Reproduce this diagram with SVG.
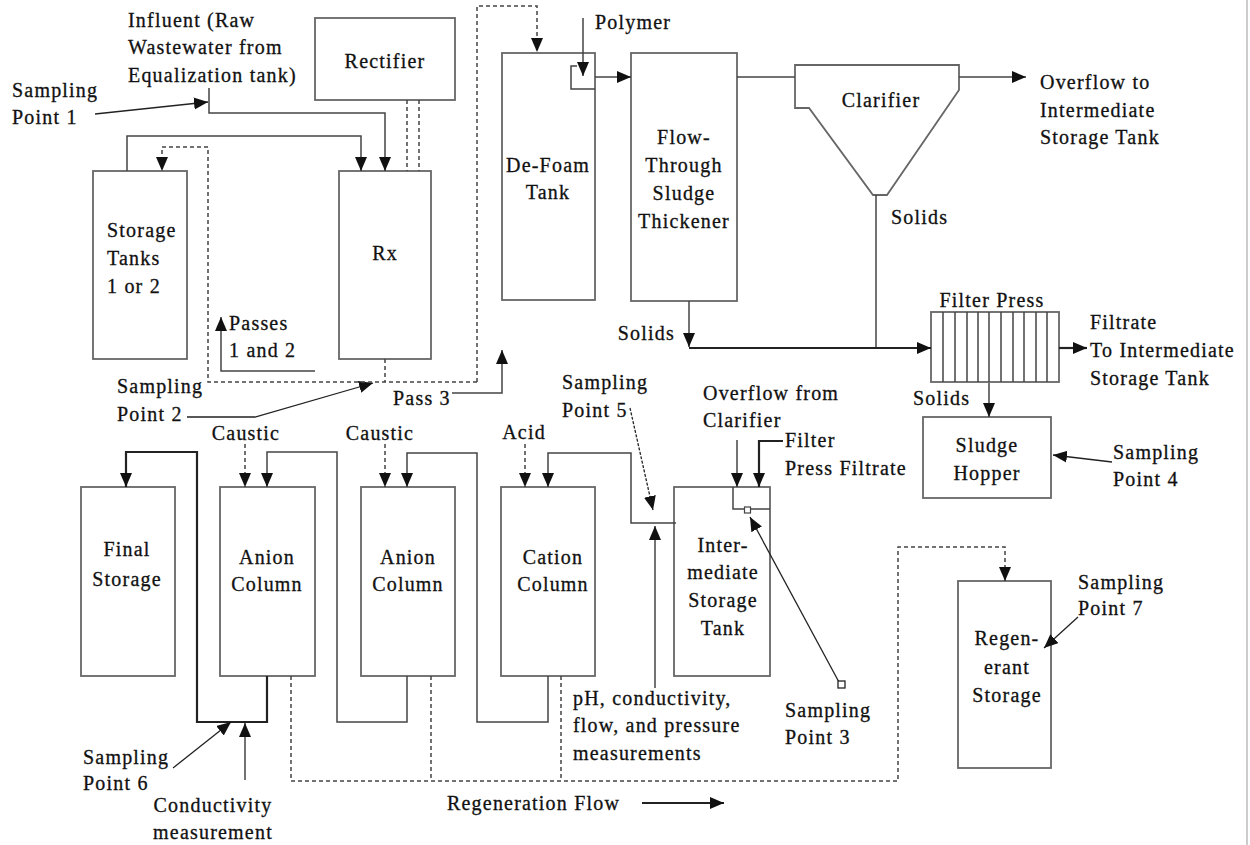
<svg xmlns="http://www.w3.org/2000/svg" width="1250" height="845" viewBox="0 0 1250 845">
<style>
text{font-family:"Liberation Serif","Times New Roman",serif;font-size:20px;letter-spacing:1.2px;fill:#111;stroke:#111;stroke-width:0.3}
.m{text-anchor:middle}
.e{text-anchor:end}
.box{fill:#fff;stroke:#666;stroke-width:1.8}
.ln{fill:none;stroke:#444;stroke-width:1.5}
.dk{fill:none;stroke:#222;stroke-width:1.3}
.th{fill:none;stroke:#222;stroke-width:2.2}
.ds{fill:none;stroke:#444;stroke-width:1.5;stroke-dasharray:4 3}
.ar{marker-end:url(#ah)}
</style>
<defs>
<marker id="ah" markerUnits="userSpaceOnUse" markerWidth="15" markerHeight="13" refX="14" refY="6" orient="auto"><path d="M0,0 L14,6 L0,12 z" fill="#111"/></marker>
</defs>
<rect width="1250" height="845" fill="#fff"/>
<line x1="1247" y1="0" x2="1247" y2="845" stroke="#bbb" stroke-width="1.5"/>

<g id="influent-label">
<text x="128" y="27">Influent (Raw</text>
<text x="128" y="54">Wastewater from</text>
<text x="128" y="82">Equalization tank)</text>
</g>
<g id="sp1"><text x="12" y="97">Sampling</text><text x="12" y="124">Point 1</text></g>
<g id="rectifier"><rect class="box" x="315" y="18" width="140" height="82"/><text class="m" x="385" y="68">Rectifier</text></g>
<g id="storage-tanks"><rect class="box" x="93" y="171" width="94" height="188"/>
<text x="107" y="237">Storage</text><text x="107" y="265">Tanks</text><text x="107" y="293">1 or 2</text></g>
<g id="rx"><rect class="box" x="339" y="171" width="92" height="188"/><text class="m" x="385" y="260">Rx</text></g>
<g id="passes"><text x="229" y="330">Passes</text><text x="229" y="357">1 and 2</text></g>
<g id="sp2"><text x="117" y="393">Sampling</text><text x="117" y="421">Point 2</text></g>
<g id="pass3"><text x="393" y="405">Pass 3</text></g>
<g id="defoam"><rect class="box" x="502" y="53" width="93" height="247"/>
<path class="ln" d="M577,66 H571 V89 H595"/>
<text class="m" x="548" y="172">De-Foam</text><text class="m" x="548" y="199">Tank</text></g>
<g id="polymer"><text x="595" y="29">Polymer</text></g>
<g id="thickener"><rect class="box" x="631" y="53" width="106" height="248"/>
<text class="m" x="684" y="144">Flow-</text><text class="m" x="684" y="172">Through</text><text class="m" x="684" y="200">Sludge</text><text class="m" x="684" y="228">Thickener</text></g>
<g id="clarifier"><path class="box" d="M795,65 H959 V90 L887,195 H873 L809,108 H795 Z"/>
<text class="m" x="881" y="107">Clarifier</text></g>
<g id="overflow-label"><text x="1040" y="89">Overflow to</text><text x="1040" y="117">Intermediate</text><text x="1040" y="144">Storage Tank</text></g>
<g id="solids-clarifier"><text x="891" y="224">Solids</text></g>
<g id="solids-thickener"><text class="e" x="675" y="340">Solids</text></g>
<g id="filter-press"><rect class="box" x="931" y="312" width="128" height="70"/>
<path stroke="#444" stroke-width="1.5" d="M943,312V382M955,312V382M967,312V382M978,312V382M989,312V382M1001,312V382M1013,312V382M1024,312V382M1036,312V382M1047,312V382"/>
<text class="m" x="992" y="307">Filter Press</text></g>
<g id="filtrate-label"><text x="1090" y="329">Filtrate</text><text x="1090" y="357">To Intermediate</text><text x="1090" y="385">Storage Tank</text></g>
<g id="solids-press"><text x="913" y="405">Solids</text></g>
<g id="sludge-hopper"><rect class="box" x="923" y="417" width="128" height="81"/>
<text class="m" x="987" y="452">Sludge</text><text class="m" x="987" y="480">Hopper</text></g>
<g id="sp4"><text x="1113" y="459">Sampling</text><text x="1113" y="486">Point 4</text></g>
<g id="sp5"><text x="562" y="389">Sampling</text><text x="562" y="417">Point 5</text></g>
<g id="overflow-from"><text x="703" y="400">Overflow from</text><text x="703" y="427">Clarifier</text></g>
<g id="filtrate-in"><text x="785" y="447">Filter</text><text x="785" y="475">Press Filtrate</text></g>
<g id="caustic1"><text class="m" x="246" y="440">Caustic</text></g>
<g id="caustic2"><text class="m" x="380" y="440">Caustic</text></g>
<g id="acid"><text class="m" x="524" y="439">Acid</text></g>
<g id="final-storage"><rect class="box" x="81" y="487" width="94" height="189"/>
<text class="m" x="127" y="556">Final</text><text class="m" x="127" y="586">Storage</text></g>
<g id="anion1"><rect class="box" x="220" y="487" width="95" height="189"/>
<text class="m" x="267" y="564">Anion</text><text class="m" x="267" y="591">Column</text></g>
<g id="anion2"><rect class="box" x="361" y="487" width="94" height="189"/>
<text class="m" x="408" y="564">Anion</text><text class="m" x="408" y="591">Column</text></g>
<g id="cation"><rect class="box" x="501" y="487" width="94" height="189"/>
<text class="m" x="553" y="564">Cation</text><text class="m" x="553" y="591">Column</text></g>
<g id="intermediate"><rect class="box" x="674" y="487" width="96" height="189"/>
<path class="ln" d="M733,487 V509 H770"/>
<text class="m" x="723" y="552">Inter-</text><text class="m" x="723" y="579">mediate</text><text class="m" x="723" y="607">Storage</text><text class="m" x="723" y="635">Tank</text></g>
<g id="regenerant"><rect class="box" x="958" y="581" width="93" height="187"/>
<text class="m" x="1007" y="645">Regen-</text><text class="m" x="1007" y="674">erant</text><text class="m" x="1007" y="702">Storage</text></g>
<g id="sp7"><text x="1078" y="589">Sampling</text><text x="1078" y="615">Point 7</text></g>
<g id="measurements"><text x="573" y="705">pH, conductivity,</text><text x="573" y="732">flow, and pressure</text><text x="573" y="760">measurements</text></g>
<g id="sp3"><text x="785" y="717">Sampling</text><text x="785" y="744">Point 3</text></g>
<g id="sp6"><text x="83" y="764">Sampling</text><text x="83" y="790">Point 6</text></g>
<g id="conductivity"><text class="m" x="213" y="812">Conductivity</text><text class="m" x="213" y="839">measurement</text></g>
<g id="regen-flow"><text x="447" y="810">Regeneration Flow</text></g>

<g id="connectors">
<path class="ln ar" d="M209,88 V113 H385 V171"/>
<path class="ln ar" d="M127,171 V136 H361 V171"/>
<path class="dk ar" d="M95,114 L208,102"/>
<path class="ln ar" d="M315,371 H221 V317"/>
<path class="dk ar" d="M187,417 H255 L373,383"/>
<path class="ln ar" d="M452,393 H502 V350"/>
<path class="ds" d="M407,100 V171 M419,100 V171"/>
<path class="ds" d="M385,359 V382"/>
<path class="ds ar" d="M477,382 H208 V147 H162 V171"/>
<path class="ds ar" d="M477,382 V6 H537 V52"/>
<path class="ln ar" d="M583,18 V76"/>
<path class="ln ar" d="M595,77 H631"/>
<path class="ln" d="M737,77 H795"/>
<path class="ln ar" d="M959,77 H1026"/>
<path class="ln" d="M876,195 V348"/>
<path class="ln ar" d="M689,301 V347"/>
<path class="th ar" d="M689,348 H931"/>
<path class="th ar" d="M1059,348 H1087"/>
<path class="ln ar" d="M989,383 V417"/>
<path class="dk ar" d="M1112,462 L1053,455"/>
<path class="dk ar" d="M1078,617 L1044,648"/>
<path class="ln ar" d="M737,440 V487"/>
<path class="th ar" d="M783,441 H759 V487"/>
<rect x="744.5" y="507" width="6" height="6" fill="#fff" stroke="#444" stroke-width="1.2"/>
<path class="dk ar" d="M840,684 L750,517"/>
<rect x="838" y="681" width="7" height="7" fill="#fff" stroke="#222" stroke-width="1.3"/>
<path class="ln ar" d="M676,523 H631 V453 H548 V487"/>
<path class="dk ar" d="M630,408 L653,510" stroke-dasharray="3 1.5"/>
<path class="ln ar" d="M655,688 V526"/>
<path class="ln ar" d="M548,676 V722 H477 V453 H407 V487"/>
<path class="ln ar" d="M407,676 V722 H337 V452 H267 V487"/>
<path class="th ar" d="M267,676 V722 H197 V452 H126 V487"/>
<path class="ds ar" d="M245,444 V487"/>
<path class="ds ar" d="M385,444 V487"/>
<path class="ds ar" d="M525,444 V487"/>
<path class="dk ar" d="M173,768 L231,722"/>
<path class="ln ar" d="M245,780 V723"/>
<path class="ds ar" d="M291,676 V781 H898 V547 H1005 V581"/>
<path class="ds" d="M431,676 V781 M561,676 V781"/>
<path class="th ar" d="M642,803 H724"/>
</g>
</svg>
